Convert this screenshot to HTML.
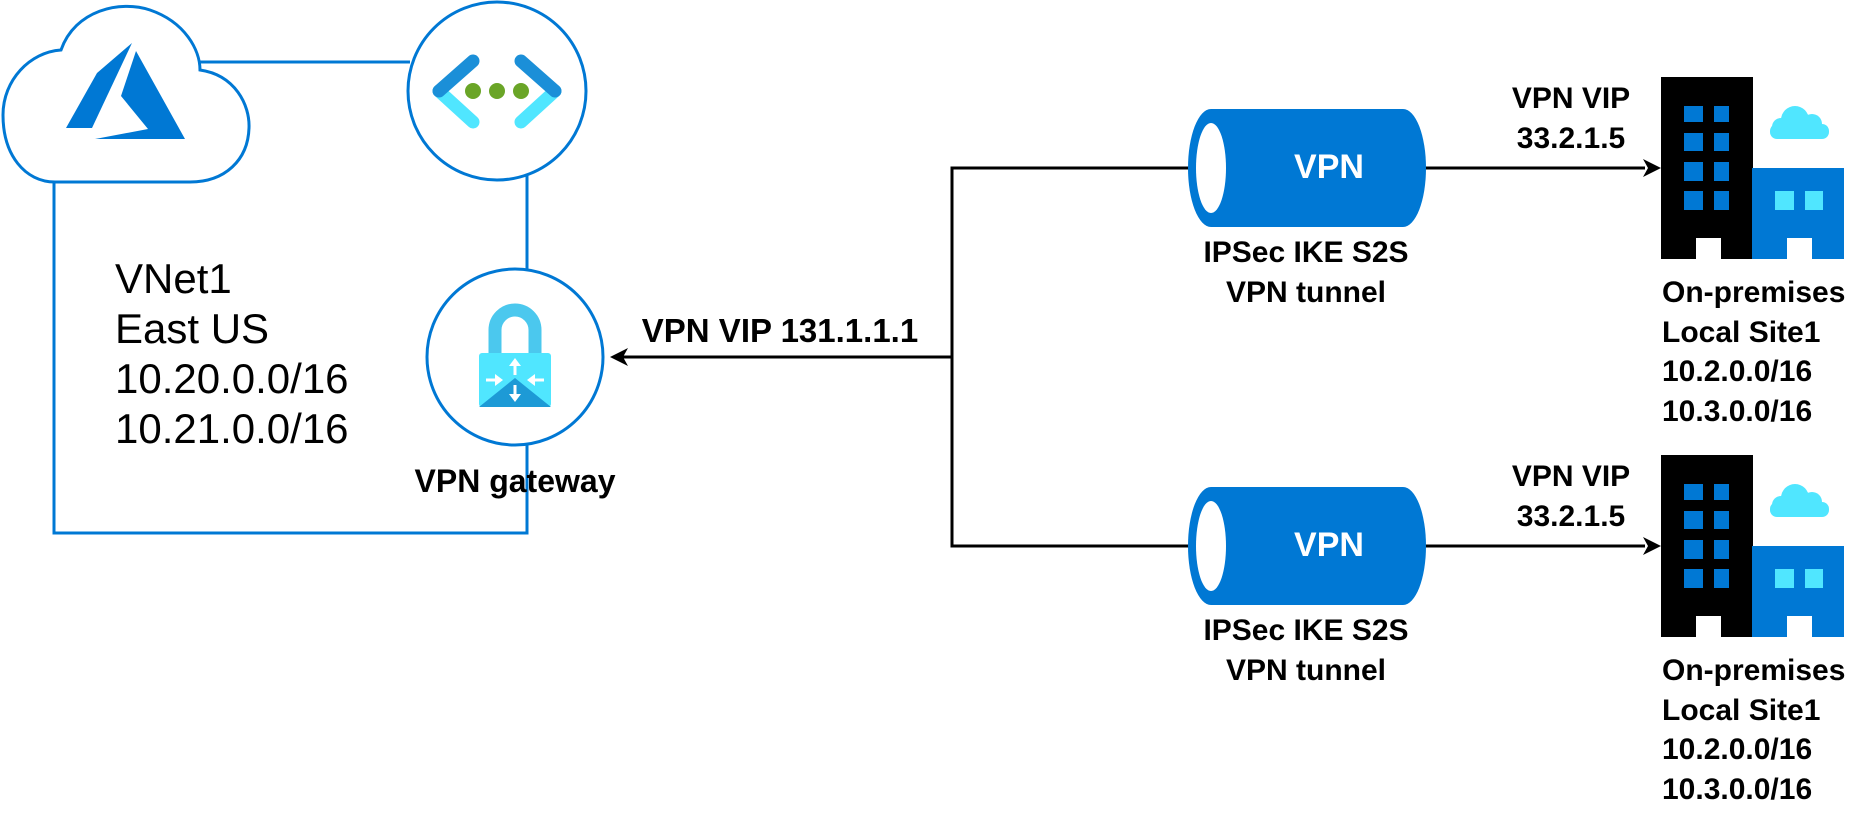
<!DOCTYPE html>
<html><head><meta charset="utf-8"><style>
html,body{margin:0;padding:0;background:#fff;}
svg{display:block;}
text{font-family:"Liberation Sans",Arial,sans-serif;}
.b{font-weight:bold;fill:#000;}
</style></head><body>
<svg width="1867" height="814" viewBox="0 0 1867 814" xmlns="http://www.w3.org/2000/svg">
<!-- VNet box lines -->
<g stroke="#0078d4" stroke-width="3" fill="none">
<line x1="200" y1="62" x2="410" y2="62"/>
<line x1="54" y1="180" x2="54" y2="533"/>
<line x1="52.5" y1="533" x2="528.5" y2="533"/>
<line x1="527" y1="533" x2="527" y2="440"/>
<line x1="527" y1="270" x2="527" y2="175"/>
</g>
<!-- cloud -->
<path d="M61,50 C75,10 120,0 150,10 C185,22 200,50 200,70 C235,75 250,105 249,128 C248,160 225,182 190,182 L55,182 C25,182 3,155 3,115 C3,80 30,52 61,50 Z" fill="#fff" stroke="#0078d4" stroke-width="3"/>
<polygon points="66,128 97,73 132,43 92,128" fill="#0078d4"/>
<polygon points="95,139 148,129 121,96 136,51 185,139" fill="#0078d4"/>
<!-- network circle -->
<circle cx="497" cy="91" r="89" fill="#fff" stroke="#0078d4" stroke-width="3"/>
<g stroke-width="13" stroke-linecap="round" fill="none">
<line x1="439" y1="91" x2="473" y2="122" stroke="#50e6ff"/>
<line x1="439" y1="91" x2="473" y2="61" stroke="#1b8fd8"/>
<line x1="555" y1="91" x2="521" y2="122" stroke="#50e6ff"/>
<line x1="555" y1="91" x2="521" y2="61" stroke="#1b8fd8"/>
</g>
<circle cx="473" cy="91" r="8" fill="#6aa527"/>
<circle cx="497" cy="91" r="8" fill="#6aa527"/>
<circle cx="521" cy="91" r="8" fill="#6aa527"/>
<!-- gateway circle -->
<circle cx="515" cy="357" r="88" fill="#fff" stroke="#0078d4" stroke-width="3"/>
<path d="M495,354 V330 A20,20 0 0 1 535,330 V354" fill="none" stroke="#4bc8ee" stroke-width="13"/>
<rect x="479" y="353" width="72" height="54" rx="3" fill="#50e6ff"/>
<polygon points="479,407 515,378 551,407" fill="#1d9ad6"/>
<g stroke="#fff" stroke-width="3" fill="#fff">
<line x1="515" y1="364" x2="515" y2="375"/><polygon points="509,366 515,358 521,366" stroke="none"/>
<line x1="515" y1="385" x2="515" y2="396"/><polygon points="509,394 515,402 521,394" stroke="none"/>
<line x1="486" y1="380" x2="497" y2="380"/><polygon points="495,374 503,380 495,386" stroke="none"/>
<line x1="533" y1="380" x2="544" y2="380"/><polygon points="535,374 527,380 535,386" stroke="none"/>
</g>
<text x="115" y="293" font-size="42">VNet1</text>
<text x="115" y="343" font-size="42">East US</text>
<text x="115" y="393" font-size="42">10.20.0.0/16</text>
<text x="115" y="443" font-size="42">10.21.0.0/16</text>
<text class="b" x="515" y="492" font-size="32" text-anchor="middle">VPN gateway</text>
<!-- connectors -->
<g stroke="#000" stroke-width="3" fill="none">
<polyline points="1190,168 952,168 952,546 1190,546"/>
<line x1="952" y1="357" x2="622" y2="357"/>
<line x1="1424" y1="168" x2="1645" y2="168"/>
<line x1="1424" y1="546" x2="1645" y2="546"/>
</g>
<polygon points="610,357 628,348 623,357 628,366" fill="#000"/>
<polygon points="1661,168 1643,159 1648,168 1643,177" fill="#000"/>
<polygon points="1661,546 1643,537 1648,546 1643,555" fill="#000"/>
<text class="b" x="780" y="342" font-size="33" text-anchor="middle">VPN VIP 131.1.1.1</text>
<!-- tunnels -->
<g>
<path d="M1211,109 L1403,109 A23,59 0 0 1 1403,227 L1211,227 A23,59 0 0 1 1211,109 Z" fill="#0078d4"/>
<ellipse cx="1211" cy="168" rx="15" ry="45" fill="#fff"/>
<text x="1329" y="178" font-size="34" font-weight="bold" fill="#fff" text-anchor="middle">VPN</text>
<text class="b" x="1306" y="262" font-size="30" text-anchor="middle">IPSec IKE S2S</text>
<text class="b" x="1306" y="302" font-size="30" text-anchor="middle">VPN tunnel</text>
</g>
<g transform="translate(0,378)">
<path d="M1211,109 L1403,109 A23,59 0 0 1 1403,227 L1211,227 A23,59 0 0 1 1211,109 Z" fill="#0078d4"/>
<ellipse cx="1211" cy="168" rx="15" ry="45" fill="#fff"/>
<text x="1329" y="178" font-size="34" font-weight="bold" fill="#fff" text-anchor="middle">VPN</text>
<text class="b" x="1306" y="262" font-size="30" text-anchor="middle">IPSec IKE S2S</text>
<text class="b" x="1306" y="302" font-size="30" text-anchor="middle">VPN tunnel</text>
</g>
<!-- sites -->
<g id="site">
<text class="b" x="1571" y="108" font-size="30" text-anchor="middle">VPN VIP</text>
<text class="b" x="1571" y="148" font-size="30" text-anchor="middle">33.2.1.5</text>
<rect x="1661" y="77" width="92" height="182" fill="#000"/>
<rect x="1752" y="168" width="92" height="91" fill="#0078d4"/>
<g fill="#0078d4">
<rect x="1684" y="106" width="19" height="16"/><rect x="1714" y="106" width="15" height="16"/>
<rect x="1684" y="133" width="19" height="18"/><rect x="1714" y="133" width="15" height="18"/>
<rect x="1684" y="162" width="19" height="19"/><rect x="1714" y="162" width="15" height="19"/>
<rect x="1684" y="191" width="19" height="19"/><rect x="1714" y="191" width="15" height="19"/>
</g>
<rect x="1696" y="238" width="25" height="21" fill="#fff"/>
<rect x="1787" y="238" width="25" height="21" fill="#fff"/>
<rect x="1775" y="191" width="19" height="19" fill="#50e6ff"/>
<rect x="1805" y="191" width="18" height="19" fill="#50e6ff"/>
<g fill="#50e6ff">
<rect x="1770" y="124" width="59" height="15" rx="7"/>
<circle cx="1795" cy="120" r="14"/>
<circle cx="1812" cy="124" r="10"/>
<circle cx="1781" cy="127" r="9"/>
</g>
<text class="b" x="1662" y="302" font-size="30">On-premises</text>
<text class="b" x="1662" y="342" font-size="30">Local Site1</text>
<text class="b" x="1662" y="381" font-size="30">10.2.0.0/16</text>
<text class="b" x="1662" y="421" font-size="30">10.3.0.0/16</text>
</g>
<use href="#site" transform="translate(0,378)"/>
</svg>
</body></html>
